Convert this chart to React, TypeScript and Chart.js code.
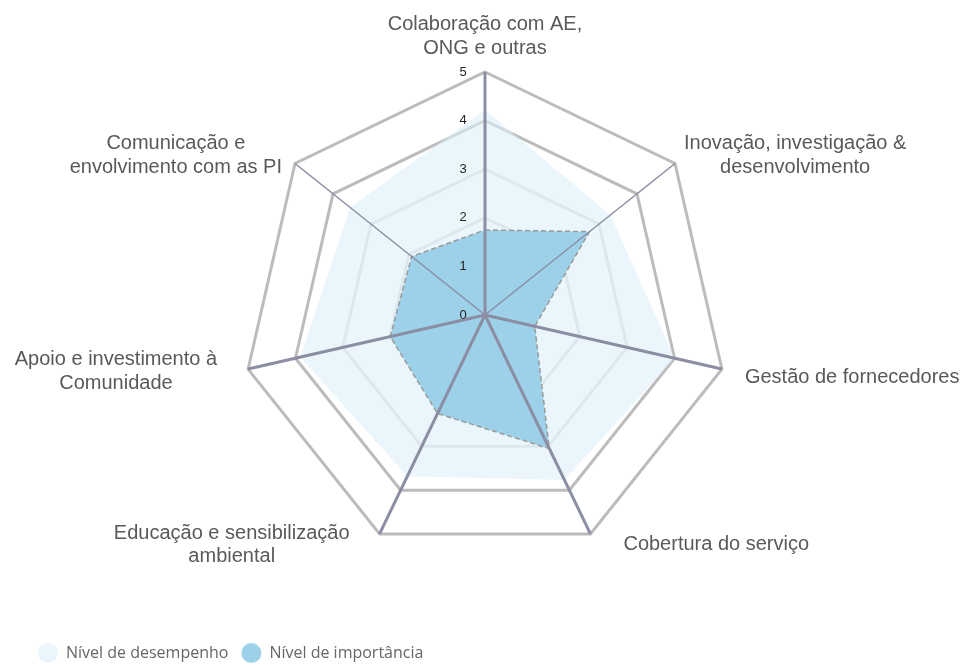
import React, { useEffect, useRef } from 'react';
import { Chart, registerables } from 'chart.js';

Chart.register(...registerables);

// ---- data ----
const categories: string[][] = [
  ['Colaboração com AE,', 'ONG e outras'],
  ['Inovação, investigação &', 'desenvolvimento'],
  ['Gestão de fornecedores'],
  ['Cobertura do serviço'],
  ['Educação e sensibilização', 'ambiental'],
  ['Apoio e investimento à', 'Comunidade'],
  ['Comunicação e', 'envolvimento com as PI'],
];
const seriesNames = ['Nível de desempenho', 'Nível de importância'];
const desempenho = [4.22, 3.3, 4.0, 3.77, 3.68, 3.9, 3.55];
const importancia = [1.75, 2.75, 1.05, 3.05, 2.25, 2.0, 1.93];
const tickLabels = ['0', '1', '2', '3', '4', '5'];

// ---- styles / layout ----
const angleWidths = [3, 1.5, 3, 3, 3, 3, 1.5];
const labelSide = ['top', 'right', 'right', 'right', 'left', 'left', 'left'];
const labelGap = [12, 9, 23, 33, 30, 31, 13];
const labelDy = [0, -8, 8, 11, 11, 2.5, -8];
const LABEL_FONT = '20px "Liberation Sans", Arial, sans-serif';
const LABEL_LINE = 23.5;

const overlayPlugin = {
  id: 'overlay',
  afterDatasetsDraw(chart: any) {
    const s = chart.scales.r;
    const ctx: CanvasRenderingContext2D = chart.ctx;
    ctx.save();
    // angle lines on top of fills
    ctx.strokeStyle = '#8b8ea3';
    ctx.lineCap = 'butt';
    for (let i = 0; i < categories.length; i++) {
      const p = s.getPointPosition(i, s.drawingArea);
      ctx.beginPath();
      ctx.moveTo(s.xCenter, s.yCenter);
      ctx.lineTo(p.x, p.y);
      ctx.lineWidth = angleWidths[i];
      ctx.stroke();
    }
    // point labels
    ctx.font = LABEL_FONT;
    ctx.fillStyle = '#595959';
    ctx.textAlign = 'center';
    ctx.textBaseline = 'middle';
    for (let i = 0; i < categories.length; i++) {
      const lines = categories[i];
      const v = s.getPointPosition(i, s.drawingArea);
      const w = Math.max(...lines.map((l) => ctx.measureText(l).width));
      const h = lines.length * LABEL_LINE;
      let cx = v.x;
      let cy = v.y + labelDy[i];
      if (labelSide[i] === 'top') {
        cy = v.y - labelGap[i] - h / 2;
      } else if (labelSide[i] === 'right') {
        cx = v.x + labelGap[i] + w / 2;
      } else {
        cx = v.x - labelGap[i] - w / 2;
      }
      lines.forEach((l, k) => {
        ctx.fillText(l, cx, cy + (k - (lines.length - 1) / 2) * LABEL_LINE);
      });
    }
    // tick labels
    ctx.font = '13px "Liberation Sans", Arial, sans-serif';
    ctx.fillStyle = '#262626';
    s.ticks.forEach((t: any, idx: number) => {
      const y = s.yCenter - s.getDistanceFromCenterForValue(t.value);
      ctx.fillText(tickLabels[idx] ?? String(t.value), s.xCenter - 22, y);
    });
    ctx.restore();
  },
};

export default function App() {
  const ref = useRef<HTMLCanvasElement>(null);
  useEffect(() => {
    document.body.style.margin = '0';
    document.body.style.overflow = 'hidden';
    const chart = new Chart(ref.current as HTMLCanvasElement, {
      type: 'radar',
      data: {
        labels: categories,
        datasets: [
          {
            label: seriesNames[0],
            data: desempenho,
            backgroundColor: 'rgba(220,240,250,0.6)',
            borderWidth: 0,
            borderColor: 'rgba(0,0,0,0)',
            pointRadius: 0,
            fill: true,
            order: 2,
          },
          {
            label: seriesNames[1],
            data: importancia,
            backgroundColor: '#9dd1e9',
            borderColor: '#9a9a9a',
            borderWidth: 1.5,
            borderDash: [5, 3],
            pointRadius: 0,
            fill: true,
            order: 1,
          },
        ],
      },
      options: {
        responsive: false,
        animation: false,
        devicePixelRatio: 1,
        layout: { padding: { top: 72, left: 25, right: 18, bottom: -6 } },
        scales: {
          r: {
            min: 0,
            max: 5,
            ticks: { stepSize: 1, display: false },
            pointLabels: { display: false },
            angleLines: { display: false },
            grid: {
              circular: false,
              lineWidth: 3,
              color: (c: any) => (c.index >= 4 ? '#bcbcbc' : '#dcdcdc'),
            },
          },
        },
        plugins: {
          tooltip: { enabled: false },
          legend: {
            position: 'bottom',
            align: 'start',
            title: { display: true, text: '', padding: { top: 64, bottom: 0 }, font: { size: 10, lineHeight: 1 } },
            labels: {
              usePointStyle: true,
              pointStyle: 'circle',
              pointStyleWidth: 20,
              boxHeight: 14,
              padding: 13,
              color: '#7f7f7f',
              font: { family: '"Open Sans", Lato, sans-serif', size: 16 },
              generateLabels: (ch: any) =>
                ch.data.datasets.map((d: any, i: number) => ({
                  text: d.label,
                  fillStyle: d.backgroundColor,
                  strokeStyle: 'rgba(0,0,0,0)',
                  lineWidth: 0,
                  pointStyle: 'circle',
                  hidden: false,
                  datasetIndex: i,
                })),
            },
          },
        },
      } as any,
      plugins: [overlayPlugin],
    });
    return () => chart.destroy();
  }, []);
  return (
    <div style={{ width: 963, height: 665 }}>
      <canvas ref={ref} width={963} height={665} style={{ display: 'block' }} />
    </div>
  );
}
